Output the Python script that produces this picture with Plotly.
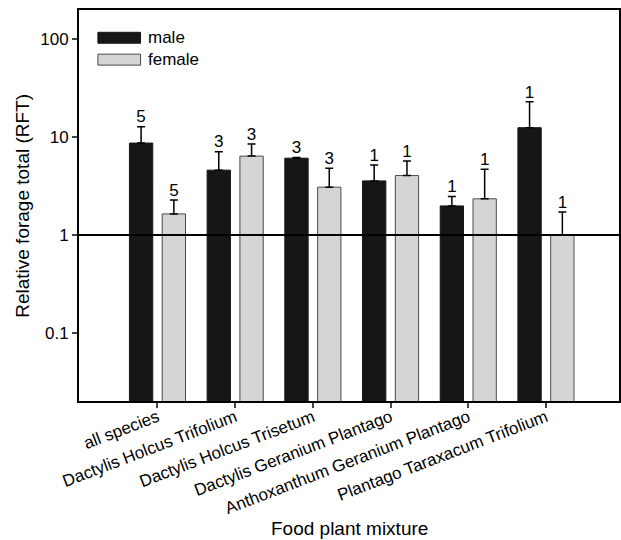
import plotly.graph_objects as go
import numpy as np

categories = ["all species", "Dactylis Holcus Trifolium", "Dactylis Holcus Trisetum",
              "Dactylis Geranium Plantago", "Anthoxanthum Geranium Plantago",
              "Plantago Taraxacum Trifolium"]
male_mean = [8.7, 4.6, 6.1, 3.57, 1.98, 12.5]
male_err_top = [12.8, 7.1, 6.2, 5.2, 2.47, 23.0]
female_mean = [1.64, 6.4, 3.08, 4.05, 2.34, 1.0]
female_err_top = [2.28, 8.5, 4.8, 5.7, 4.7, 1.72]
male_n = [5, 3, 3, 1, 1, 1]
female_n = [5, 3, 3, 1, 1, 1]
ytick_vals = [0.1, 1, 10, 100]
ytick_text = ["0.1", "1", "10", "100"]

FONT = "Liberation Sans, Arial, sans-serif"
idx = np.arange(len(categories))
off = 0.211
bw = 0.30
xm = idx - off
xf = idx + off
m_plus = np.array(male_err_top) - np.array(male_mean)
f_plus = np.array(female_err_top) - np.array(female_mean)

fig = go.Figure()
fig.add_trace(go.Bar(x=xm, y=male_mean, width=bw, name="male",
                     marker=dict(color="#161616", line=dict(color="#161616", width=1)),
                     error_y=dict(type="data", symmetric=False, array=m_plus,
                                  arrayminus=[0]*len(m_plus), color="black",
                                  thickness=1.5, width=4)))
fig.add_trace(go.Bar(x=xf, y=female_mean, width=bw, name="female",
                     marker=dict(color="#d4d5d4", line=dict(color="#4a4a4a", width=1)),
                     error_y=dict(type="data", symmetric=False, array=f_plus,
                                  arrayminus=[0]*len(f_plus), color="black",
                                  thickness=1.5, width=4)))
fig.add_trace(go.Scatter(x=np.concatenate([xm, xf]),
                         y=male_err_top + female_err_top,
                         text=[str(v) for v in male_n + female_n],
                         mode="text", textposition="top center",
                         textfont=dict(family=FONT, size=17, color="black"),
                         showlegend=False, hoverinfo="skip"))

fig.add_hline(y=1, line=dict(color="black", width=2))

# custom legend
leg = [("male", "#161616", "#161616", 0.929), ("female", "#d4d5d4", "#4a4a4a", 0.873)]
for name, fill, edge, yc in leg:
    fig.add_shape(type="rect", xref="paper", yref="paper",
                  x0=0.035, x1=0.114, y0=yc - 0.014, y1=yc + 0.014,
                  fillcolor=fill, line=dict(color=edge, width=1))
    fig.add_annotation(xref="paper", yref="paper", x=0.124, y=yc, text=name,
                       showarrow=False, xanchor="left", yanchor="middle",
                       font=dict(family=FONT, size=17, color="black"))

# axis titles
fig.add_annotation(xref="paper", yref="paper", x=0.5, y=-0.325, yanchor="middle",
                   text="Food plant mixture", showarrow=False,
                   font=dict(family=FONT, size=19, color="black"))
fig.add_annotation(xref="paper", yref="paper", x=-0.105, y=0.5, xanchor="center",
                   yanchor="middle", textangle=-90,
                   text="Relative forage total (RFT)", showarrow=False,
                   font=dict(family=FONT, size=19, color="black"))

fig.update_layout(
    width=621, height=540,
    margin=dict(l=79, r=2, t=10, b=139),
    plot_bgcolor="white", paper_bgcolor="white",
    showlegend=False,
    barmode="overlay",
    font=dict(family=FONT, size=17, color="black"),
    xaxis=dict(range=[-1.01, 5.94], tickvals=list(idx), ticktext=categories,
               tickangle=-21, ticks="outside", ticklen=5, tickwidth=1.5,
               ticklabelstandoff=-7,
               showline=True, linecolor="black", linewidth=2, mirror=True,
               showgrid=False, zeroline=False, automargin=False,
               tickfont=dict(family=FONT, size=17)),
    yaxis=dict(type="log", range=[np.log10(0.02), np.log10(200)],
               tickvals=ytick_vals, ticktext=ytick_text,
               ticks="outside", ticklen=5, tickwidth=1.5,
               showline=True, linecolor="black", linewidth=2, mirror=True,
               showgrid=False, zeroline=False, automargin=False,
               tickfont=dict(family=FONT, size=17)),
)

fig.write_html("out.html", config={"displayModeBar": False},
               post_script="document.body.style.margin='0';"
                           "document.body.style.overflow='hidden';")
